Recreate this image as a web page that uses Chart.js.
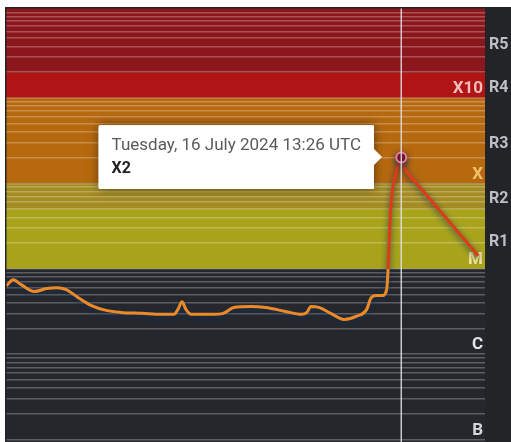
<!DOCTYPE html>
<html>
<head>
<meta charset="utf-8">
<script src="https://cdn.jsdelivr.net/npm/chart.js@4.4.1/dist/chart.umd.min.js"></script>
<style>
html, body { margin: 0; background: #fff; overflow: hidden; }
#wrap { position: absolute; left: 5px; top: 7px; }
</style>
</head>
<body>
<div id="wrap"><canvas id="xray" width="507" height="440"></canvas></div>
<script>
// minutes since 00:00 UTC, 16 July 2024
const minutes = [509, 514, 520, 530, 539, 547, 554, 562, 573, 584,
                 595, 611, 626, 635, 638, 641, 644, 648, 663, 672,
                 680, 693, 704, 719, 731, 735, 738, 744, 753, 763,
                 772, 780, 783, 787, 792, 795, 796, 798, 801, 806,
                 809, 864];
// long-wave x-ray flux, W/m2
const flux = [6.3e-6, 7.4e-6, 6.5e-6, 5.4e-6, 5.85e-6, 6.0e-6, 5.7e-6, 4.7e-6, 3.7e-6, 3.25e-6,
              3.08e-6, 3.0e-6, 2.92e-6, 2.92e-6, 3.34e-6, 4.1e-6, 3.34e-6, 2.92e-6, 2.92e-6, 3.0e-6,
              3.52e-6, 3.62e-6, 3.52e-6, 3.16e-6, 2.92e-6, 3.08e-6, 3.62e-6, 3.52e-6, 3.0e-6, 2.55e-6,
              2.77e-6, 3.34e-6, 4.48e-6, 4.85e-6, 4.85e-6, 5.7e-6, 9.2e-6, 4.85e-5, 1.14e-4, 2.0e-4,
              1.42e-4, 1.42e-5];

const classNames = ['B', 'C', 'M', 'X', 'X10'];
const classBase = [1e-7, 1e-6, 1e-5, 1e-4, 1e-3];
const classColors = ['#d6d7da', '#e4e5e8', '#f3e4a4', '#f4c266', '#f6bcbc'];

// radio blackout scale
const stormLabels = ['R1', 'R2', 'R3', 'R4', 'R5'];
const stormTicks = [2.24e-5, 7.07e-5, 3.16e-4, 1.41e-3, 4.47e-3];

const bandFrom = [0, 1e-5, 5e-5, 1e-4, 1e-3, 2e-3];
const bandColors = ['#25272c', '#a8a31b', '#a48b22', '#b6690f', '#b01414', '#8b161b'];

const yMin = Math.pow(10, -7.07);
const yMax = Math.pow(10, -1.9535);

const dayNames = ['Sunday', 'Monday', 'Tuesday', 'Wednesday', 'Thursday', 'Friday', 'Saturday'];
const monthNames = ['January', 'February', 'March', 'April', 'May', 'June', 'July',
                    'August', 'September', 'October', 'November', 'December'];

const peak = flux.indexOf(Math.max(...flux));

function pad(n) { return String(n).padStart(2, '0'); }

function formatTime(m) {
    const d = new Date(Date.UTC(2024, 6, 16, 0, m));
    return dayNames[d.getUTCDay()] + ', ' + d.getUTCDate() + ' ' + monthNames[d.getUTCMonth()] + ' ' +
        d.getUTCFullYear() + ' ' + pad(d.getUTCHours()) + ':' + pad(d.getUTCMinutes()) + ' UTC';
}

function fluxClass(v) {
    const letters = ['A', 'B', 'C', 'M', 'X'];
    const bases = [1e-8, 1e-7, 1e-6, 1e-5, 1e-4];
    let i = letters.length - 1;
    while (i > 0 && v < bases[i]) i--;
    return letters[i] + parseFloat((v / bases[i]).toFixed(1));
}

function classIndex(v) {
    return classBase.findIndex(b => Math.abs(v - b) / b < 1e-6);
}

function gridValues() {
    const out = [];
    for (let e = -8; e <= -1; e++) {
        for (let s = 1; s <= 9; s++) {
            const v = s * Math.pow(10, e);
            if (v >= yMin && v <= yMax) out.push(v);
        }
    }
    return out;
}

function points(from, to) {
    const out = [];
    for (let i = from; i <= to; i++) out.push({ x: minutes[i], y: flux[i] });
    return out;
}

const bandPlugin = {
    id: 'bands',
    beforeDraw(chart) {
        const { ctx, chartArea: a, scales: { y } } = chart;
        ctx.save();
        ctx.fillStyle = '#222428';
        ctx.fillRect(0, 0, chart.width, chart.height);
        for (let i = 0; i < bandFrom.length; i++) {
            const lo = Math.max(bandFrom[i], y.min);
            const hi = i + 1 < bandFrom.length ? bandFrom[i + 1] : y.max;
            const top = y.getPixelForValue(hi);
            const bottom = y.getPixelForValue(lo);
            ctx.fillStyle = bandColors[i];
            ctx.fillRect(a.left, top, a.right - a.left, bottom - top);
        }
        ctx.restore();
    }
};

const glowPlugin = {
    id: 'glow',
    beforeDatasetDraw(chart) {
        const c = chart.ctx;
        c.save();
        c.shadowColor = 'rgba(15,45,85,0.85)';
        c.shadowBlur = 6;
        c.shadowOffsetY = 2;
    },
    afterDatasetDraw(chart) {
        chart.ctx.restore();
    }
};

const hoverPlugin = {
    id: 'hover',
    afterDatasetsDraw(chart) {
        const act = chart.getActiveElements();
        if (!act.length) return;
        const x = act[0].element.x;
        const { ctx, chartArea: a } = chart;
        ctx.save();
        ctx.strokeStyle = 'rgba(225,228,235,0.85)';
        ctx.lineWidth = 1.5;
        ctx.beginPath();
        ctx.moveTo(x, a.top);
        ctx.lineTo(x, a.bottom);
        ctx.stroke();
        ctx.restore();
    },
    beforeTooltipDraw(chart, args) {
        const t = args.tooltip;
        if (!t.opacity) return;
        const ctx = chart.ctx;
        ctx.save();
        ctx.shadowColor = 'rgba(0,0,0,0.5)';
        ctx.shadowBlur = 10;
        ctx.fillStyle = '#fff';
        ctx.fillRect(t.x, t.y, t.width, t.height);
        ctx.restore();
    }
};

function lineColor(c) {
    const chart = c.chart;
    const a = chart.chartArea;
    if (!a) return '#ee8a25';
    const y = chart.scales.y;
    const p = Math.min(1, Math.max(0, (y.getPixelForValue(1e-5) - a.top) / (a.bottom - a.top)));
    const g = chart.ctx.createLinearGradient(0, a.top, 0, a.bottom);
    g.addColorStop(0, '#df3c16');
    g.addColorStop(p, '#df3c16');
    g.addColorStop(p, '#ee8a25');
    g.addColorStop(1, '#ee8a25');
    return g;
}

const ctx = document.getElementById('xray').getContext('2d');

const lineStyle = {
    borderColor: lineColor,
    borderWidth: 3,
    pointRadius: 0,
    pointHoverRadius: 5,
    pointHoverBorderWidth: 2,
    pointHoverBackgroundColor: '#8a1426',
    pointHoverBorderColor: '#e77f96',
    fill: false
};

const chart = new Chart(ctx, {
    type: 'line',
    data: {
        datasets: [
            Object.assign({ data: points(0, peak), cubicInterpolationMode: 'monotone' }, lineStyle),
            Object.assign({ data: points(peak, flux.length - 1), tension: 0 }, lineStyle)
        ]
    },
    options: {
        responsive: false,
        animation: false,
        events: [],
        layout: { padding: 0 },
        plugins: {
            legend: { display: false },
            tooltip: {
                backgroundColor: '#fff',
                titleColor: '#5a5a5a',
                bodyColor: '#222',
                titleFont: { family: 'Roboto', size: 17, weight: 'normal' },
                bodyFont: { family: 'Roboto', size: 16, weight: 'bold' },
                titleMarginBottom: 4,
                padding: { x: 13, y: 10 },
                cornerRadius: 3,
                caretSize: 8,
                caretPadding: 19,
                xAlign: 'right',
                yAlign: 'center',
                displayColors: false,
                callbacks: {
                    title: items => formatTime(items[0].raw.x),
                    label: item => fluxClass(item.parsed.y)
                }
            }
        },
        scales: {
            x: { type: 'linear', min: 509, max: 869, display: false },
            y: {
                type: 'logarithmic',
                position: 'right',
                weight: 0,
                min: yMin,
                max: yMax,
                bounds: 'data',
                afterBuildTicks(s) { s.ticks = gridValues().map(v => ({ value: v })); },
                afterFit(s) { s.width = 0; s.paddingTop = 0; s.paddingBottom = 0; },
                grid: { color: 'rgba(255,255,255,0.26)', lineWidth: 1.5, drawTicks: false },
                border: { display: false },
                ticks: {
                    mirror: true,
                    autoSkip: false,
                    padding: -2,
                    labelOffset: -9,
                    font: { family: 'Roboto', size: 17, weight: 'bold' },
                    color: c => {
                        const i = classIndex(c.tick.value);
                        return i >= 0 ? classColors[i] : 'rgba(0,0,0,0)';
                    },
                    callback: v => {
                        const i = classIndex(v);
                        return i >= 0 ? classNames[i] : '';
                    }
                }
            },
            storm: {
                type: 'logarithmic',
                axis: 'y',
                position: 'right',
                weight: 1,
                min: yMin,
                max: yMax,
                bounds: 'data',
                afterBuildTicks(s) { s.ticks = stormTicks.map(v => ({ value: v })); },
                afterFit(s) { s.width = 27; s.paddingTop = 0; s.paddingBottom = 0; },
                grid: { display: false, drawTicks: false },
                border: { display: false },
                ticks: {
                    autoSkip: false,
                    padding: 4,
                    labelOffset: 3,
                    color: '#bcc0c6',
                    font: { family: 'Roboto', size: 16, weight: 'bold' },
                    callback: (v, i) => stormLabels[i]
                }
            }
        }
    },
    plugins: [bandPlugin, glowPlugin, hoverPlugin]
});

chart.setActiveElements([{ datasetIndex: 0, index: peak }]);
chart.tooltip.setActiveElements([{ datasetIndex: 0, index: peak }], { x: 0, y: 0 });
chart.update();
</script>
</body>
</html>
